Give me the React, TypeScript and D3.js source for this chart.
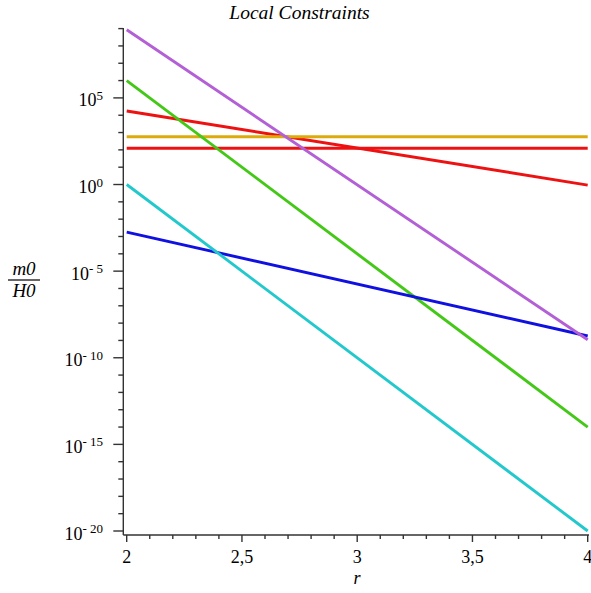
import React from "react";
import * as d3 from "d3";

const rDomain = [2, 4];
const rPoints = [2, 4];
const redSlope = [1.75e4, 0.93];
const redFlat = [123, 123];
const yellow = [575, 575];
const green = [1.0e6, 1.0e-14];
const blue = [1.8e-3, 1.8e-9];
const purple = [8.5e8, 1.1e-9];
const cyan = [1.0, 1.0e-20];

const seriesNames = ["redSlope", "redFlat", "yellow", "green", "blue", "purple", "cyan"];
const seriesValues = [redSlope, redFlat, yellow, green, blue, purple, cyan];
const seriesColors = ["#ee1111", "#ee1111", "#dcaa0a", "#44c818", "#1010e0", "#b35fd6", "#22c8cc"];

const xTickMajor = [2, 2.5, 3, 3.5, 4];
const xTickLabels = ["2", "2,5", "3", "3,5", "4"];
const yExpMajor = [0, 5, -5, -10, -15, -20];

const W = 591;
const H = 593;

export default function App() {
  const x = d3.scaleLinear().domain(rDomain).range([126.7, 587.7]);
  const y = d3.scaleLog().domain([1e-20, 1e9]).range([531, 28.6]);
  const axisX = 123.3;
  const axisY = 535;

  const line = d3
    .line<[number, number]>()
    .x((d) => x(d[0]))
    .y((d) => y(d[1]));

  const xMinor = d3.range(0, 21).map((i) => 2 + i * 0.1);
  const yMinor = d3.range(-20, 10);

  const font = "Liberation Serif, Times New Roman, serif";

  return (
    <svg width={W} height={H} style={{ position: "absolute", left: 0, top: 0 }}>
      <rect width={W} height={H} fill="#fff" />
      <text x={299.5} y={19} fontFamily={font} fontStyle="italic" fontSize={19.5} textAnchor="middle" fill="#000">
        Local Constraints
      </text>

      {/* axes */}
      <line x1={axisX} x2={axisX} y1={28} y2={axisY} stroke="#333" strokeWidth={1.4} />
      <line x1={axisX} x2={589} y1={axisY} y2={axisY} stroke="#333" strokeWidth={1.4} />

      {yMinor.map((e) => {
        const major = e % 5 === 0;
        return (
          <line
            key={"yt" + e}
            x1={axisX}
            x2={axisX - (major ? 10 : 5)}
            y1={y(Math.pow(10, e))}
            y2={y(Math.pow(10, e))}
            stroke="#333"
            strokeWidth={1.4}
          />
        );
      })}
      {xMinor.map((v, i) => {
        const major = i % 5 === 0;
        return (
          <line
            key={"xt" + i}
            x1={x(v)}
            x2={x(v)}
            y1={axisY}
            y2={axisY + (major ? 7 : 4)}
            stroke="#333"
            strokeWidth={1.4}
          />
        );
      })}

      {yExpMajor.map((e) => (
        <text
          key={"yl" + e}
          x={103}
          y={y(Math.pow(10, e)) + 8.5}
          fontFamily={font}
          fontSize={18}
          textAnchor="end"
          fill="#000"
        >
          10
          <tspan dy={-6.5} fontSize={13}>
            {e < 0 ? "- " + Math.abs(e) : String(e)}
          </tspan>
        </text>
      ))}

      {xTickMajor.map((v, i) => (
        <text key={"xl" + i} x={x(v)} y={563} fontFamily={font} fontSize={18} textAnchor="middle" fill="#000">
          {xTickLabels[i]}
        </text>
      ))}

      <text x={357} y={584} fontFamily={font} fontStyle="italic" fontSize={18} textAnchor="middle" fill="#000">
        r
      </text>

      <text x={24} y={275} fontFamily={font} fontStyle="italic" fontSize={19} textAnchor="middle" fill="#000">
        m0
      </text>
      <line x1={8} x2={40} y1={280} y2={280} stroke="#000" strokeWidth={1.2} />
      <text x={24} y={297} fontFamily={font} fontStyle="italic" fontSize={19} textAnchor="middle" fill="#000">
        H0
      </text>

      {seriesValues.map((vals, i) => (
        <path
          key={seriesNames[i]}
          d={line(rPoints.map((r, j) => [r, vals[j]] as [number, number])) || ""}
          fill="none"
          stroke={seriesColors[i]}
          strokeWidth={2.9}
        />
      ))}
    </svg>
  );
}
